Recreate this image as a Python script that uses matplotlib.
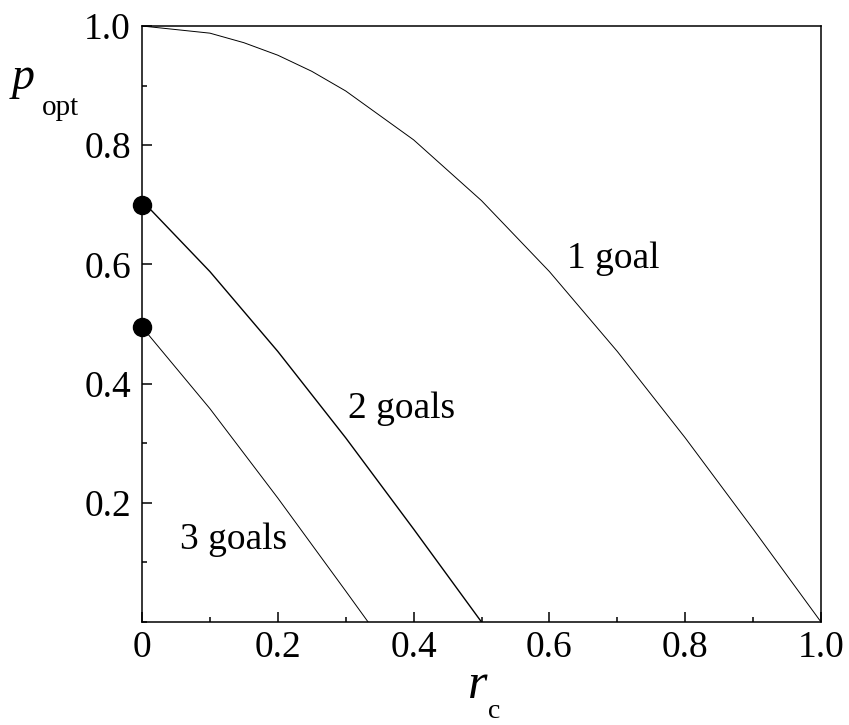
import matplotlib
matplotlib.use("Agg")
import matplotlib.pyplot as plt
from matplotlib.ticker import MultipleLocator, FixedLocator

# ---- data ----
r_one = [0.0, 0.1, 0.15, 0.2, 0.25, 0.3, 0.4, 0.5, 0.6, 0.7, 0.8, 0.9, 1.0]
p_one = [1.0, 0.988, 0.972, 0.951, 0.924, 0.891, 0.809, 0.707, 0.588, 0.454, 0.309, 0.156, 0.0]

r_two = [0.0, 0.1, 0.2, 0.3, 0.4, 0.5]
p_two = [0.707, 0.588, 0.454, 0.309, 0.156, 0.0]

r_three = [0.0, 0.1, 0.2, 0.3, 0.333]
p_three = [0.495, 0.358, 0.208, 0.052, 0.0]

dot_r = [0.0, 0.0]
dot_p = [0.70, 0.495]

x_ticks = [0, 0.2, 0.4, 0.6, 0.8, 1.0]
x_ticklabels = ["0", "0.2", "0.4", "0.6", "0.8", "1.0"]
y_ticks = [0.2, 0.4, 0.6, 0.8, 1.0]
y_ticklabels = ["0.2", "0.4", "0.6", "0.8", "1.0"]

labels = ["1 goal", "2 goals", "3 goals"]
label_pos = [(0.626, 0.594), (0.303, 0.342), (0.056, 0.122)]

W, H = 849, 725
plt.rcParams['font.family'] = ['Liberation Serif', 'DejaVu Serif']
fig = plt.figure(figsize=(W / 100, H / 100), dpi=100)
ax = fig.add_axes([142 / W, 1 - 622 / H, (821 - 142) / W, (622 - 26) / H])

ax.plot(r_one, p_one, color='black', lw=0.7)
ax.plot(r_two, p_two, color='black', lw=1.0)
ax.plot(r_three, p_three, color='black', lw=0.7)
ax.plot(dot_r, dot_p, 'o', color='black', markersize=13, clip_on=False, zorder=5)

ax.set_xlim(0, 1.0)
ax.set_ylim(0, 1.0)
ax.xaxis.set_major_locator(FixedLocator(x_ticks))
ax.set_xticklabels(x_ticklabels)
ax.yaxis.set_major_locator(FixedLocator(y_ticks))
ax.set_yticklabels(y_ticklabels)
ax.xaxis.set_minor_locator(MultipleLocator(0.1))
ax.yaxis.set_minor_locator(MultipleLocator(0.1))
ax.tick_params(which='both', direction='in', top=False, right=False, width=1.1)
ax.tick_params(which='major', length=7.2, labelsize=27)
ax.tick_params(which='minor', length=3.6)
ax.tick_params(axis='x', which='major', pad=6)
ax.tick_params(axis='y', which='major', pad=8)
for s in ax.spines.values():
    s.set_linewidth(1.1)

for txt, (x, y) in zip(labels, label_pos):
    ax.text(x, y, txt, fontsize=27, ha='left', va='baseline')

# axis labels: italic main symbol plus upright subscript
fig.text(12 / W, 1 - 89 / H, "p", fontsize=33, style='italic', ha='left', va='baseline')
fig.text(42 / W, 1 - 115 / H, "opt", fontsize=21, ha='left', va='baseline')
fig.text(468 / W, 1 - 698 / H, "r", fontsize=36, style='italic', ha='left', va='baseline')
fig.text(488 / W, 1 - 718 / H, "c", fontsize=20, ha='left', va='baseline')

fig.savefig("out.png", dpi=100)
